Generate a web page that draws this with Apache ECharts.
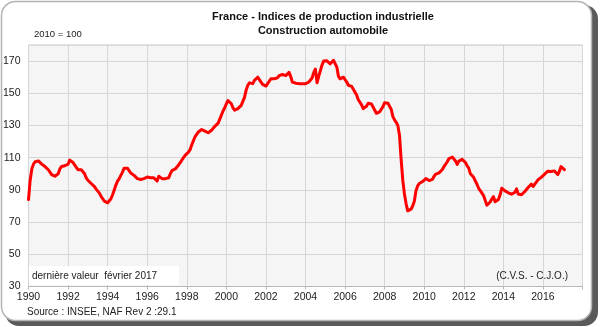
<!DOCTYPE html>
<html>
<head>
<meta charset="utf-8">
<title>France - Indices de production industrielle - Construction automobile</title>
<script src="https://cdn.jsdelivr.net/npm/echarts@6/dist/echarts.min.js"></script>
<style>
  html, body { margin: 0; padding: 0; background: #ffffff; }
  #chart { width: 600px; height: 327px; }
</style>
</head>
<body>
<div id="chart"></div>
<script>
// Monthly index (2010 = 100), seasonally and working-day adjusted, Jan 1990 onwards
const startYear = 1990;

const index1990s = [
  84, 96, 103, 106, 107.5, 108, 108, 107, 106, 105, 104.5, 103.5,
  102.5, 101, 99.5, 98.5, 98.5, 99, 100, 103, 104.5, 105, 105, 105.5,
  106, 108.5, 108.5, 107, 106, 104, 102.5, 101.5, 102.5, 103.5, 100, 97.5,
  96, 95, 94, 93, 92, 90.5, 89.5, 88, 86, 84.5, 83, 82.5,
  82, 82.5, 84.5, 87, 90, 93, 95.5, 97, 98, 101, 103.5, 104,
  103.5, 102, 100.5, 99.5, 99, 98, 97, 96.5, 96.5, 96.5, 97, 97.5,
  98, 98, 97.5, 97.8, 97.5, 97.5, 95.5, 98.5, 97.5, 97, 97, 97,
  97, 97.5, 100, 102, 102.5, 103, 104, 105.5, 107, 108.5, 110, 111.5,
  112, 113.5, 115, 118, 120.5, 123, 124.5, 126, 127, 127.5, 127, 126.5,
  126, 125.5, 125.5, 127, 128, 129.5, 130.5, 131.5, 134, 136.5, 139, 141
];

const index2000s = [
  143.5, 145.5, 145, 143.5, 141, 139.5, 140.5, 140.5, 139.5, 142.5, 145, 147.5,
  152, 155, 156.5, 157, 156, 158, 157, 160, 159, 157, 155.5, 154.5,
  154.5, 155.5, 157.5, 159, 159.5, 159, 158.8, 159.6, 161, 161.5, 161.7, 161,
  161, 161.7, 163, 160.5, 157, 156.5, 156.3, 156, 156, 156, 155.9, 155.9,
  155.9, 156.3, 157, 158, 159.5, 163, 165, 156.5, 160.5, 164, 167.5, 170,
  170.8, 170.2, 169, 168.3, 169.5, 170.5, 170.8, 166.3, 160.5, 159, 160, 160,
  159.6, 157, 155, 154, 154.3, 152.5, 151.8, 149, 146, 144.5, 142.8, 140.5,
  140.5, 142, 143.8, 144.2, 143.4, 141.5, 139.5, 137.6, 136.6, 138.5, 139.3, 141.7,
  144.2, 144, 143.8, 143.4, 140, 135.5, 133.5, 132, 130, 124, 109, 96,
  87.5, 81.5, 77, 76.4, 78, 80, 83, 89.5, 92.4, 94, 94.8, 95.2
];

const index2010s = [
  96.2, 97, 97.8, 95.8, 95.2, 96.5, 98.5, 99.8, 100.3, 100.6, 101.5, 102.7,
  104.5, 106, 107.5, 109.5, 110.4, 110.4, 109.5, 108, 105.8, 107.9, 108.5, 109,
  108.3, 107, 105, 103.5, 100, 99, 97.8, 95.5, 93.5, 91, 89.5, 88,
  86.5, 83.5, 80.5, 81, 82.5, 84.3, 85.8, 82.6, 82.8, 84, 86.8, 91,
  90.5, 89.4, 88.8, 88.2, 87.9, 87.3, 87.6, 88.5, 90.6, 87.5, 86.4, 87,
  87.9, 89, 90, 91.5, 92.5, 93.6, 92.1, 93.5, 94.8, 96.3, 97, 97.8,
  99, 99.8, 100.5, 101.6, 101.2, 101.4, 101.6, 101.8, 102, 99.5, 101.6, 104.5,
  103.7, 102.6
];

// Axis tick labels
const yearLabels = [1990, 1992, 1994, 1996, 1998, 2000, 2002, 2004, 2006, 2008, 2010, 2012, 2014, 2016];
const valueLabels = [30, 50, 70, 90, 110, 130, 150, 170];

const monthly = index1990s.concat(index2000s, index2010s);
const points = monthly.map((v, i) => [startYear + i / 12, v]);

const FONT = "'Liberation Sans', Arial, sans-serif";
const chart = echarts.init(document.getElementById('chart'), null, { renderer: 'canvas' });

chart.setOption({
  animation: false,
  backgroundColor: '#ffffff',
  grid: {
    left: 27.5, right: 17.5, top: 45, bottom: 40.5,
    show: true,
    backgroundColor: '#f5f5f5',
    borderColor: '#c4c4c4',
    borderWidth: 1
  },
  xAxis: {
    type: 'value',
    min: 1990, max: 2018, interval: 2,
    axisLine: { show: true, lineStyle: { color: '#b8b8b8', width: 1 } },
    axisTick: { show: true, length: 3, lineStyle: { color: '#b8b8b8' } },
    axisLabel: {
      color: '#222', fontFamily: FONT, fontSize: 10.5, margin: 5,
      formatter: v => (yearLabels.indexOf(v) >= 0 ? String(v) : '')
    },
    splitLine: { show: true, lineStyle: { color: '#d6d6d6', width: 1 } }
  },
  yAxis: {
    type: 'value',
    min: 30, max: 180, interval: 10,
    axisLine: { show: false },
    axisTick: { show: false },
    axisLabel: {
      color: '#222', fontFamily: FONT, fontSize: 10.5, margin: 8,
      formatter: v => (valueLabels.indexOf(v) >= 0 ? String(v) : '')
    },
    splitLine: { show: true, lineStyle: { color: ['#d6d6d6', 'rgba(0,0,0,0)'], width: 1 } }
  },
  series: [{
    type: 'line',
    data: points,
    showSymbol: false,
    symbol: 'none',
    lineStyle: { color: '#ff0000', width: 3, join: 'round', cap: 'round' },
    z: 5
  }],
  graphic: [
    // frame shadow and panel
    { type: 'rect', z: -100, silent: true,
      shape: { x: 5, y: 5, width: 593, height: 321, r: 14 },
      style: { fill: '#5a5a5a' } },
    { type: 'rect', z: -99, silent: true,
      shape: { x: 1.5, y: 1.5, width: 590, height: 319, r: 14 },
      style: { fill: '#ffffff', stroke: '#b4b4b4', lineWidth: 1.5 } },
    { type: 'text', z: 100, x: 323, y: 17,
      style: { text: 'France - Indices de production industrielle', fill: '#111',
        font: "bold 11px 'Liberation Sans', Arial, sans-serif", textAlign: 'center', textVerticalAlign: 'middle' } },
    { type: 'text', z: 100, x: 323, y: 31,
      style: { text: 'Construction automobile', fill: '#111',
        font: "bold 11px 'Liberation Sans', Arial, sans-serif", textAlign: 'center', textVerticalAlign: 'middle' } },
    { type: 'text', z: 100, x: 34, y: 34,
      style: { text: '2010 = 100', fill: '#222',
        font: "9.5px 'Liberation Sans', Arial, sans-serif", textAlign: 'left', textVerticalAlign: 'middle' } },
    { type: 'rect', z: 90, silent: true,
      shape: { x: 29, y: 266, width: 150, height: 19 },
      style: { fill: '#ffffff' } },
    { type: 'text', z: 100, x: 32, y: 276,
      style: { text: 'dernière valeur  février 2017', fill: '#222',
        font: "10px 'Liberation Sans', Arial, sans-serif", textAlign: 'left', textVerticalAlign: 'middle' } },
    { type: 'text', z: 100, x: 568, y: 276,
      style: { text: '(C.V.S. - C.J.O.)', fill: '#222',
        font: "10px 'Liberation Sans', Arial, sans-serif", textAlign: 'right', textVerticalAlign: 'middle' } },
    { type: 'text', z: 100, x: 27, y: 312,
      style: { text: 'Source : INSEE, NAF Rev 2 :29.1', fill: '#222',
        font: "10px 'Liberation Sans', Arial, sans-serif", textAlign: 'left', textVerticalAlign: 'middle' } }
  ]
});
</script>
</body>
</html>
